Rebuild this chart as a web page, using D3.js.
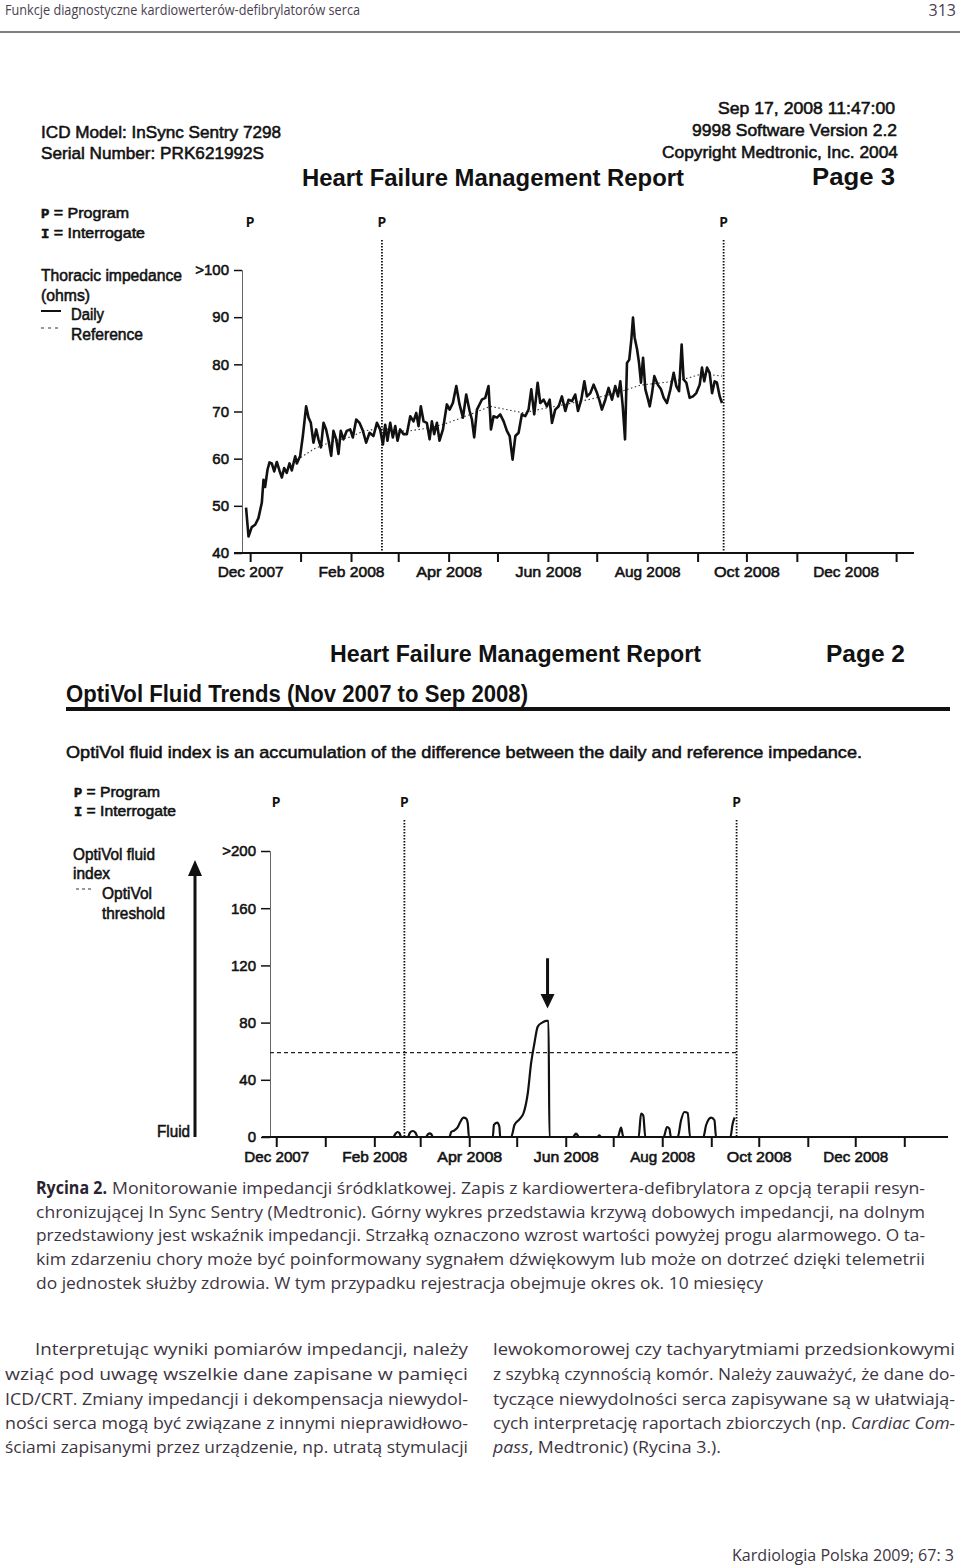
<!DOCTYPE html>
<html><head><meta charset="utf-8">
<script src="https://cdn.jsdelivr.net/npm/d3@7"></script>
<style>body{margin:0;background:#fff}svg{display:block}</style>
</head><body>
<svg id="c" width="960" height="1567"></svg>
<script>
// ---------------- DATA ----------------
// days counted from 2007-12-01
const programDays = [0, 81, 291];
const monthLabelFormat = "%b %Y";
const impTicks = [40, 50, 60, 70, 80, 90, 100];
const impTickLabels = ["40", "50", "60", "70", "80", "90", ">100"];
const fluidTicks = [0, 40, 80, 120, 160, 200];
const fluidTickLabels = ["0", "40", "80", "120", "160", ">200"];

const impDays = [-2.5,-1.0,1.0,3.1,5.1,7.2,8.2,9.2,10.7,11.9,13.3,14.8,16.4,18.0,19.5,20.9,22.5,24.2,25.6,27.7,
  28.7,30.7,32.4,34.4,35.9,37.3,38.9,40.6,42.0,43.5,45.1,46.7,48.2,49.8,51.2,52.9,54.3,55.7,57.4,59.4,
  61.5,63.1,65.2,67.2,69.3,71.3,73.4,75.8,77.9,79.9,81.6,83.0,84.4,86.1,87.7,89.2,90.6,92.2,94.3,96.3,
  98.4,100.4,102.1,103.5,104.9,106.6,108.6,110.3,111.7,113.1,114.8,116.4,118.5,120.9,122.6,124.6,126.7,128.7,130.8,132.8,
  134.9,136.3,137.7,139.4,142.4,144.5,146.5,148.0,149.6,151.7,153.7,155.8,157.8,159.5,161.3,163.0,165.0,167.0,169.1,171.1,
  172.8,174.6,176.7,178.3,180.4,182.4,184.1,185.5,187.5,189.6,191.6,193.7,195.7,197.8,199.8,201.5,203.5,205.4,207.0,209.1,
  211.1,213.2,214.8,216.2,218.3,220.3,222.4,224.4,226.1,227.5,229.0,230.4,231.6,233.0,234.3,235.3,236.3,237.8,239.0,240.2,
  241.5,242.9,244.3,245.6,247.0,248.4,250.5,252.5,254.2,256.2,258.3,260.3,261.9,263.6,265.2,266.4,268.1,270.1,272.2,274.2,
  276.3,277.7,279.1,280.8,282.4,283.9,285.5,286.9,288.6,290.0];
const impDaily = [49.6,43.5,45.5,46,47.4,50.7,55.5,54,57.7,59.2,59,57.3,59.3,57.5,56,58,57,59,57.5,60.5,
  59,60.5,64.8,71.1,68.7,67.6,63.4,66.2,64.1,62.4,67.6,66.2,63.8,60.6,65.9,64.1,61,65.9,64.1,65.9,
  66.2,64.5,68.3,67.6,65.9,63.4,65.5,64.8,67.6,66.2,63,67.2,63.8,67.6,64.5,66.9,63.8,66.2,65.2,65.2,
  69,67.9,69.7,66.9,71.1,67.9,67.6,64.1,67.9,65.2,67.6,63.8,66.2,71.5,70.4,71.8,75.4,71.5,68.7,73.6,
  70.1,68.3,64.5,70.4,72.5,72.9,75.4,66.2,69,68.7,69.4,67.9,65.9,64.8,59.8,64.8,65.5,69.4,69,70.4,
  74.7,69.4,76.1,71.8,72.5,71.1,72.5,67.6,70.4,71.1,73.2,70.1,72.5,72.2,73.6,70.1,72.5,76.4,73.2,73.9,
  75.7,73.9,72.2,70.4,72.5,75,72.5,75.4,73.2,76.4,71.1,64.1,80.3,81,85.3,89.9,85.7,83.2,80.3,76.1,
  81.4,74.7,72.9,71.1,73.9,77.5,75.7,74.7,72.9,71.8,74.7,78.2,75.4,74.3,84.2,76.8,76.1,72.9,73.2,73.9,
  75.7,79.3,76.4,79.3,78.2,73.9,76.4,76.1,73.2,71.8];

const refDays = [29,40,50,61.5,70,80,96,110,120,137,147.6,168,180,195,209,225,240,256,266,278,290];
const refValues = [59.8,62.2,63.6,64.6,65.9,66.4,65.8,66.5,67.4,69.6,71.1,69.7,70.6,71.6,72.6,73.9,75.6,76.2,76.8,78.0,77.5];

const fluidDays = [30.7,74,75.5,76.8,78,79,83.2,84.5,86.3,88,89.4,94.6,96,96.9,98,99,
  109.5,110.6,112.7,114.8,116.3,118.4,120.1,121.1,121.8,136.9,137.6,139.6,141,141.6,
  148.5,150.6,153.7,156.3,159,161.1,163.2,165.3,168.1,170.6,172.1,172.7,
  187.4,189.5,191.6,203.2,204.2,205.2,215.9,218,219.4,229.1,230.6,232,233.3,
  244.9,247,248.5,249.5,253.8,255.9,258,260.1,261.6,270,271.7,274.9,277,278,287.1,288.5,289.8];
const fluidValues = [0,0,2.5,3.5,2.5,0,0,3,4.2,3,0,0,2,2.6,2,0,
  0,3.5,4.7,7,10.5,13.5,12.8,9.3,0,0,8.4,10,7.5,0,
  0,8.4,12.3,16.6,30.6,51.6,65.6,77.2,80,81.2,81.2,0,
  0,2.3,0,0,1.2,0,0,6.5,0,0,16.3,15.2,0,
  0,7,5.8,0,0,11.7,17.5,16.8,0,0,8.2,13.6,11.7,0,0,9.3,13.6];
const fluidThreshold = 59;
const alertDay = 171.5;

const captionLines = [
  ["Rycina 2.", "Monitorowanie impedancji śródklatkowej. Zapis z kardiowertera-defibrylatora z opcją terapii resyn-"],
  ["", "chronizującej In Sync Sentry (Medtronic). Górny wykres przedstawia krzywą dobowych impedancji, na dolnym"],
  ["", "przedstawiony jest wskaźnik impedancji. Strzałką oznaczono wzrost wartości powyżej progu alarmowego. O ta-"],
  ["", "kim zdarzeniu chory może być poinformowany sygnałem dźwiękowym lub może on dotrzeć dzięki telemetrii"],
  ["", "do jednostek służby zdrowia. W tym przypadku rejestracja obejmuje okres ok. 10 miesięcy"]
];
const leftColumn = [
  "Interpretując wyniki pomiarów impedancji, należy",
  "wziąć pod uwagę wszelkie dane zapisane w pamięci",
  "ICD/CRT. Zmiany impedancji i dekompensacja niewydol-",
  "ności serca mogą być związane z innymi nieprawidłowo-",
  "ściami zapisanymi przez urządzenie, np. utratą stymulacji"
];
const rightColumn = [
  ["lewokomorowej czy tachyarytmiami przedsionkowymi"],
  ["z szybką czynnością komór. Należy zauważyć, że dane do-"],
  ["tyczące niewydolności serca zapisywane są w ułatwiają-"],
  ["cych interpretację raportach zbiorczych (np. ", "Cardiac Com-"],
  ["", "pass", ", Medtronic) (Rycina 3.)."]
];

// ---------------- HELPERS ----------------
const svg = d3.select("#c");
const RPT = "'Liberation Sans', Arial, sans-serif";
const MONO = "'Liberation Mono', 'Courier New', monospace";
const PAGE = "'Open Sans', 'Noto Sans', sans-serif";
const INK = "#111";
const base = new Date(2007, 11, 1);
const dayToDate = d => new Date(base.getTime() + d * 864e5);

function txt(str, x, y, o = {}) {
  const t = svg.append("text").attr("x", x).attr("y", y)
    .attr("font-family", o.family || RPT)
    .attr("font-size", o.size || 15)
    .attr("font-weight", o.weight || "normal")
    .attr("fill", o.fill || INK)
    .attr("text-anchor", o.anchor || "start")
    .text(str);
  if (o.stroke) t.attr("stroke", o.fill || INK).attr("stroke-width", o.stroke);
  if (o.w) t.attr("textLength", o.w).attr("lengthAdjust", "spacingAndGlyphs");
  if (o.style) t.attr("font-style", o.style);
  return t;
}

// ---------------- PAGE HEADER ----------------
txt("Funkcje diagnostyczne kardiowerterów-defibrylatorów serca", 5, 15, {family: PAGE, size: 15, fill: "#4a4150", w: 355});
txt("313", 956, 16, {family: PAGE, size: 16, fill: "#4a4150", anchor: "end"});
svg.append("line").attr("x1", 0).attr("x2", 960).attr("y1", 32).attr("y2", 32).attr("stroke", "#555").attr("stroke-width", 1.5);

// ---------------- CHART 1: THORACIC IMPEDANCE ----------------
const S = 0.55; // ink thickening of scanned text
txt("Sep 17, 2008 11:47:00", 718, 114, {size: 17, w: 177, stroke: S});
txt("9998 Software Version 2.2", 692, 136, {size: 17, w: 205, stroke: S});
txt("Copyright Medtronic, Inc. 2004", 662, 158, {size: 17, w: 236, stroke: S});
txt("ICD Model: InSync Sentry 7298", 41, 138, {size: 17, w: 240, stroke: S});
txt("Serial Number: PRK621992S", 41, 159, {size: 17, w: 223, stroke: S});
txt("Heart Failure Management Report", 302, 186, {size: 24, weight: "bold", w: 382});
txt("Page 3", 812, 185, {size: 24, weight: "bold", w: 83});

function pLegend(x, y1, y2, w1, w2) {
  const a = txt("", x, y1, {size: 15, stroke: S, w: w1});
  a.append("tspan").attr("font-family", MONO).attr("font-weight", "bold").attr("font-size", 13).text("P");
  a.append("tspan").text(" = Program");
  const b = txt("", x, y2, {size: 15, stroke: S, w: w2});
  b.append("tspan").attr("font-family", MONO).attr("font-weight", "bold").attr("font-size", 13).text("I");
  b.append("tspan").text(" = Interrogate");
}
pLegend(41, 218, 238, 88, 104);

const x1 = d3.scaleTime().domain([new Date(2007, 10, 26), new Date(2009, 0, 12)]).range([242, 914]);
const y1 = d3.scaleLinear().domain([40, 100]).range([553, 270]);
const months = d3.timeMonth.range(new Date(2007, 11, 1), new Date(2009, 1, 1));

programDays.forEach((d, i) => {
  txt("P", x1(dayToDate(d)), 227, {family: MONO, weight: "bold", size: 14, anchor: "middle"});
  if (i > 0) svg.append("line").attr("x1", x1(dayToDate(d))).attr("x2", x1(dayToDate(d)))
    .attr("y1", 240).attr("y2", 553).attr("stroke", INK).attr("stroke-width", 1.8).attr("stroke-dasharray", "1.5,1.5");
});

// legend
txt("Thoracic impedance", 41, 281, {size: 16, w: 141, stroke: S});
txt("(ohms)", 41, 301, {size: 16, w: 49, stroke: S});
svg.append("line").attr("x1", 41).attr("x2", 61).attr("y1", 311).attr("y2", 311).attr("stroke", INK).attr("stroke-width", 2);
txt("Daily", 71, 320, {size: 16, w: 33, stroke: S});
svg.append("line").attr("x1", 41).attr("x2", 62).attr("y1", 328).attr("y2", 328).attr("stroke", "#333").attr("stroke-width", 1.2).attr("stroke-dasharray", "3,4");
txt("Reference", 71, 340, {size: 16, w: 72, stroke: S});

// axes
const gy1 = svg.append("g").attr("transform", "translate(242,0)")
  .call(d3.axisLeft(y1).tickValues(impTicks).tickFormat((d, i) => impTickLabels[i]).tickSize(8).tickPadding(5));
gy1.select(".domain").attr("stroke", "#666").attr("stroke-width", 1);
gy1.selectAll(".tick line").attr("stroke", INK).attr("stroke-width", 1.5);
gy1.selectAll(".tick text").attr("font-family", RPT).attr("font-size", 15).attr("fill", INK).attr("stroke", INK).attr("stroke-width", S);

svg.append("line").attr("x1", 234).attr("x2", 914).attr("y1", 553).attr("y2", 553).attr("stroke", INK).attr("stroke-width", 2);
const gx1 = svg.append("g").attr("transform", "translate(0,553)")
  .call(d3.axisBottom(x1).tickValues(months).tickSize(9).tickPadding(4)
    .tickFormat(d => d.getMonth() % 2 === 1 ? d3.timeFormat(monthLabelFormat)(d) : ""));
gx1.select(".domain").remove();
gx1.selectAll(".tick line").attr("stroke", INK).attr("stroke-width", 2);
gx1.selectAll(".tick text").attr("font-family", RPT).attr("font-size", 15).attr("fill", INK)
  .attr("stroke", INK).attr("stroke-width", S).attr("textLength", 66).attr("lengthAdjust", "spacingAndGlyphs");

// series
const refPts = refDays.map((d, i) => [d, refValues[i]]);
svg.append("path").datum(refPts)
  .attr("d", d3.line().x(d => x1(dayToDate(d[0]))).y(d => y1(d[1])))
  .attr("fill", "none").attr("stroke", "#333").attr("stroke-width", 1.1).attr("stroke-dasharray", "1.5,2.5");
const impPts = impDays.map((d, i) => [d, impDaily[i]]);
svg.append("path").datum(impPts)
  .attr("d", d3.line().x(d => x1(dayToDate(d[0]))).y(d => y1(d[1])))
  .attr("fill", "none").attr("stroke", INK).attr("stroke-width", 2.6).attr("stroke-linejoin", "round");

// ---------------- CHART 2: OPTIVOL ----------------
txt("Heart Failure Management Report", 330, 662, {size: 24, weight: "bold", w: 371});
txt("Page 2", 826, 662, {size: 24, weight: "bold", w: 79});
txt("OptiVol Fluid Trends (Nov 2007 to Sep 2008)", 66, 702, {size: 24, weight: "bold", w: 462});
svg.append("line").attr("x1", 66).attr("x2", 950).attr("y1", 709).attr("y2", 709).attr("stroke", INK).attr("stroke-width", 4);
txt("OptiVol fluid index is an accumulation of the difference between the daily and reference impedance.", 66, 758, {size: 17, w: 796, stroke: S});
pLegend(74, 797, 816, 86, 102);

const x2 = d3.scaleTime().domain([new Date(2007, 10, 22), new Date(2009, 0, 28)]).range([262, 947]);
const y2 = d3.scaleLinear().domain([0, 200]).range([1137, 851]);
const months2 = d3.timeMonth.range(new Date(2007, 11, 1), new Date(2009, 1, 1));

programDays.forEach((d, i) => {
  txt("P", x2(dayToDate(d)), 807, {family: MONO, weight: "bold", size: 14, anchor: "middle"});
  if (i > 0) svg.append("line").attr("x1", x2(dayToDate(d))).attr("x2", x2(dayToDate(d)))
    .attr("y1", 820).attr("y2", 1137).attr("stroke", INK).attr("stroke-width", 1.8).attr("stroke-dasharray", "1.5,1.5");
});

// legend
txt("OptiVol fluid", 73, 860, {size: 16, w: 82, stroke: S});
txt("index", 73, 879, {size: 16, w: 37, stroke: S});
svg.append("line").attr("x1", 76).attr("x2", 92).attr("y1", 889).attr("y2", 889).attr("stroke", "#333").attr("stroke-width", 1.2).attr("stroke-dasharray", "3,3");
txt("OptiVol", 102, 899, {size: 16, w: 50, stroke: S});
txt("threshold", 102, 919, {size: 16, w: 63, stroke: S});
svg.append("line").attr("x1", 195).attr("x2", 195).attr("y1", 1137).attr("y2", 872).attr("stroke", INK).attr("stroke-width", 3);
svg.append("path").attr("d", "M195,860 L188,876 L202,876 Z").attr("fill", INK);
txt("Fluid", 190, 1137, {size: 16, w: 33, stroke: S, anchor: "end"});

// axes
const gy2 = svg.append("g").attr("transform", "translate(270,0)")
  .call(d3.axisLeft(y2).tickValues(fluidTicks).tickFormat((d, i) => fluidTickLabels[i]).tickSize(9).tickPadding(5));
gy2.select(".domain").attr("stroke", "#666").attr("stroke-width", 1);
gy2.selectAll(".tick line").attr("stroke", INK).attr("stroke-width", 1.5);
gy2.selectAll(".tick text").attr("font-family", RPT).attr("font-size", 15).attr("fill", INK).attr("stroke", INK).attr("stroke-width", S);

svg.append("line").attr("x1", 262).attr("x2", 948).attr("y1", 1137).attr("y2", 1137).attr("stroke", INK).attr("stroke-width", 2);
const gx2 = svg.append("g").attr("transform", "translate(0,1137)")
  .call(d3.axisBottom(x2).tickValues(months2).tickSize(10).tickPadding(4)
    .tickFormat(d => d.getMonth() % 2 === 1 ? d3.timeFormat(monthLabelFormat)(d) : ""));
gx2.select(".domain").remove();
gx2.selectAll(".tick line").attr("stroke", INK).attr("stroke-width", 2);
gx2.selectAll(".tick text").attr("font-family", RPT).attr("font-size", 15).attr("fill", INK)
  .attr("stroke", INK).attr("stroke-width", S).attr("textLength", 65).attr("lengthAdjust", "spacingAndGlyphs");

// threshold
svg.append("line").attr("x1", 270).attr("x2", x2(dayToDate(programDays[2])))
  .attr("y1", y2(fluidThreshold)).attr("y2", y2(fluidThreshold))
  .attr("stroke", "#222").attr("stroke-width", 1.2).attr("stroke-dasharray", "4,3");

// fluid index
const fluidPts = fluidDays.map((d, i) => [d, fluidValues[i]]);
svg.append("path").datum(fluidPts)
  .attr("d", d3.line().x(d => x2(dayToDate(d[0]))).y(d => y2(d[1])).curve(d3.curveMonotoneX))
  .attr("fill", "none").attr("stroke", INK).attr("stroke-width", 2.2).attr("stroke-linejoin", "round");

// alert arrow
const ax = x2(dayToDate(alertDay));
svg.append("line").attr("x1", ax).attr("x2", ax).attr("y1", y2(125)).attr("y2", y2(99)).attr("stroke", INK).attr("stroke-width", 3);
svg.append("path").attr("d", `M${ax},${y2(89.8)} L${ax - 7},${y2(100)} L${ax + 7},${y2(100)} Z`).attr("fill", INK);

// ---------------- CAPTION ----------------
const CAP = "#3d3542";
const capY = [1194, 1217.5, 1241, 1265, 1289];
captionLines.forEach((ln, i) => {
  if (ln[0]) {
    txt(ln[0], 36, capY[i], {family: PAGE, size: 17, weight: "bold", fill: "#2a2430", w: 71});
    txt(ln[1], 112, capY[i], {family: PAGE, size: 17, fill: CAP, w: 813});
  } else {
    txt(ln[1], 36, capY[i], {family: PAGE, size: 17, fill: CAP, w: i === 4 ? 727 : 889});
  }
});

// ---------------- BODY TEXT ----------------
const bodyY = [1355, 1380, 1405, 1429, 1453];
leftColumn.forEach((s, i) => {
  const x0 = i === 0 ? 35 : 5;
  txt(s, x0, bodyY[i], {family: PAGE, size: 17, fill: CAP, w: 468 - x0});
});
const rightW = [462, 462, 462, 462, 228];
rightColumn.forEach((parts, i) => {
  const t = txt("", 493, bodyY[i], {family: PAGE, size: 17, fill: CAP, w: rightW[i]});
  parts.forEach((p, j) => {
    if (!p) return;
    const sp = t.append("tspan").text(p);
    if ((i === 3 && j === 1) || (i === 4 && j === 1)) sp.attr("font-style", "italic");
  });
});

txt("Kardiologia Polska 2009; 67: 3", 732, 1561, {family: PAGE, size: 16, fill: CAP, w: 222});
</script>
</body></html>
